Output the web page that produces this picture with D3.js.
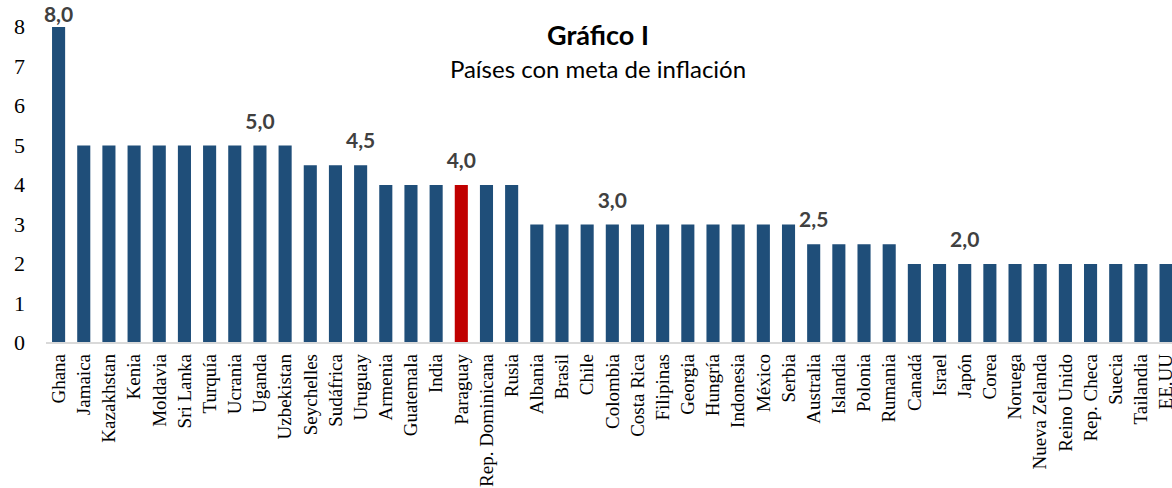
<!DOCTYPE html>
<html>
<head>
<meta charset="utf-8">
<title>Gráfico I</title>
<script src="https://cdn.jsdelivr.net/npm/d3@7"></script>
<style>
  body { margin: 0; background: #fff; }
  svg { display: block; }
</style>
</head>
<body>
<div id="chart"></div>
<script>
var countries = ["Ghana", "Jamaica", "Kazakhstan", "Kenia", "Moldavia", "Sri Lanka", "Turquía", "Ucrania",
  "Uganda", "Uzbekistan", "Seychelles", "Sudáfrica", "Uruguay", "Armenia", "Guatemala", "India",
  "Paraguay", "Rep. Dominicana", "Rusia", "Albania", "Brasil", "Chile", "Colombia", "Costa Rica",
  "Filipinas", "Georgia", "Hungría", "Indonesia", "México", "Serbia", "Australia", "Islandia",
  "Polonia", "Rumania", "Canadá", "Israel", "Japón", "Corea", "Noruega", "Nueva Zelanda",
  "Reino Unido", "Rep. Checa", "Suecia", "Tailandia", "EE.UU"];
var targets = [8, 5, 5, 5, 5, 5, 5, 5, 5, 5, 4.5, 4.5, 4.5, 4, 4, 4, 4, 4, 4,
  3, 3, 3, 3, 3, 3, 3, 3, 3, 3, 3, 2.5, 2.5, 2.5, 2.5,
  2, 2, 2, 2, 2, 2, 2, 2, 2, 2, 2];
var labelled = ["Ghana", "Uganda", "Uruguay", "Paraguay", "Colombia", "Australia", "Japón"];
var highlight = "Paraguay";
var yTicks = [0, 1, 2, 3, 4, 5, 6, 7, 8];

var w = 1172, h = 488;
var data = countries.map(function(c, i) { return { country: c, value: targets[i] }; });

var svg = d3.select("#chart").append("svg").attr("width", w).attr("height", h);

var x = d3.scaleBand()
  .domain(countries)
  .range([46, 46 + 45 * 25.17])
  .paddingInner(0.48)
  .paddingOuter(0.24);

var y = d3.scaleLinear().domain([0, 8]).range([343, 27]);

// y labels (no axis line)
svg.append("g")
  .selectAll("text")
  .data(yTicks)
  .enter()
  .append("text")
  .attr("x", 25)
  .attr("y", function(d) { return y(d); })
  .attr("dy", "0.34em")
  .attr("text-anchor", "end")
  .style("font-family", "'Liberation Serif', 'DejaVu Serif', serif")
  .attr("font-size", "22px")
  .attr("fill", "#000")
  .text(function(d) { return d; });

// bars
svg.append("g")
  .selectAll("rect")
  .data(data)
  .enter()
  .append("rect")
  .attr("x", function(d) { return x(d.country); })
  .attr("y", function(d) { return y(d.value); })
  .attr("width", x.bandwidth())
  .attr("height", function(d) { return y(0) - y(d.value); })
  .attr("fill", function(d) { return d.country === highlight ? "#c00000" : "#1f4e79"; });

// baseline
svg.append("line")
  .attr("x1", 46).attr("x2", w)
  .attr("y1", y(0)).attr("y2", y(0))
  .attr("stroke", "#d9d9d9")
  .attr("stroke-width", 2);

// category labels
svg.append("g")
  .selectAll("text")
  .data(countries)
  .enter()
  .append("text")
  .attr("transform", function(d) {
    return "translate(" + (x(d) + x.bandwidth() / 2) + ",354) rotate(-90)";
  })
  .attr("dy", "0.33em")
  .attr("text-anchor", "end")
  .style("font-family", "'Liberation Serif', serif")
  .attr("font-size", "19px")
  .attr("fill", "#000")
  .text(function(d) { return d; });

// value labels
var fmt = function(v) { return d3.format(".1f")(v).replace(".", ","); };
svg.append("g")
  .selectAll("text")
  .data(data.filter(function(d) { return labelled.indexOf(d.country) >= 0; }))
  .enter()
  .append("text")
  .attr("x", function(d) { return x(d.country) + x.bandwidth() / 2; })
  .attr("y", function(d) { return Math.max(y(d.value) - 17, 22); })
  .attr("text-anchor", "middle")
  .style("font-family", "Lato, sans-serif")
  .attr("font-weight", "bold")
  .attr("font-size", "21px")
  .attr("fill", "#404040")
  .text(function(d) { return fmt(d.value); });

// title
svg.append("text")
  .attr("x", 598).attr("y", 45)
  .attr("text-anchor", "middle")
  .style("font-family", "Lato, sans-serif")
  .attr("font-weight", "bold")
  .attr("font-size", "27px")
  .attr("fill", "#000")
  .text("Gráfico I");

svg.append("text")
  .attr("x", 598).attr("y", 78)
  .attr("text-anchor", "middle")
  .style("font-family", "Lato, sans-serif")
  .attr("font-size", "24px")
  .attr("fill", "#000")
  .text("Países con meta de inflación");
</script>
</body>
</html>
